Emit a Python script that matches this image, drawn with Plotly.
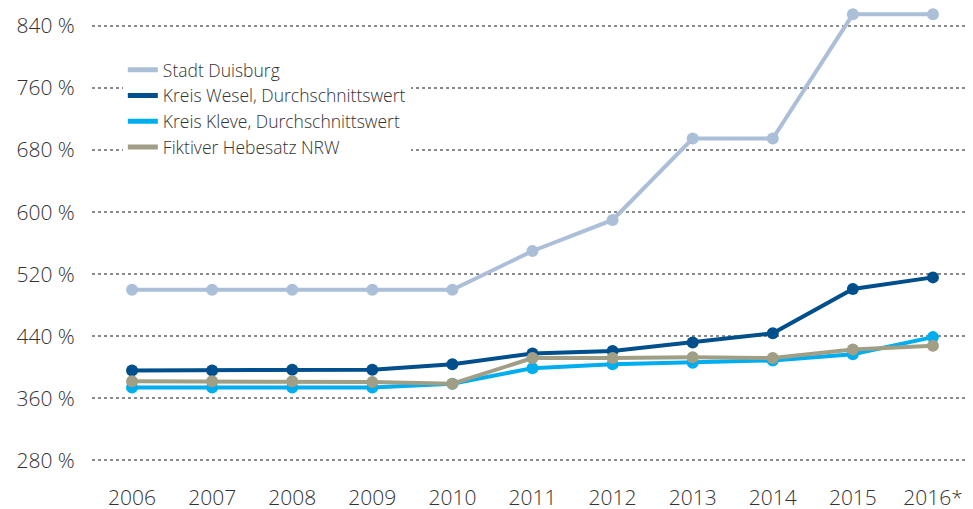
"""
Hebesätze Grundsteuer B: Duisburg vs. Kreis Wesel, Kreis Kleve und fiktiver Hebesatz NRW
"""

import plotly.graph_objects as go

# Jahre (2016 = Planwert)
years = ["2006", "2007", "2008", "2009", "2010", "2011",
         "2012", "2013", "2014", "2015", "2016*"]

# Hebesätze in Prozent
duisburg = [500, 500, 500, 500, 500, 550, 590, 695, 695, 855, 855]
wesel = [396, 396, 397, 397, 404, 418, 421, 432, 444, 501, 516]
kleve = [374, 374, 374, 374, 379, 399, 404, 406, 409, 417, 439]
nrw = [382, 382, 382, 381, 379, 412, 412, 413, 412, 423, 428]

series_names = ["Stadt Duisburg", "Kreis Wesel, Durchschnittswert",
                "Kreis Kleve, Durchschnittswert", "Fiktiver Hebesatz NRW"]
series_colors = ["#abbfd8", "#004f8d", "#00aeef", "#a19e86"]

y_ticks = [280, 360, 440, 520, 600, 680, 760, 840]
y_labels = [f"{v} %" for v in y_ticks]

FONT = "Open Sans"
TEXT_COLOR = "#333333"

fig = go.Figure()

for name, values, color in zip(series_names, [duisburg, wesel, kleve, nrw], series_colors):
    fig.add_trace(go.Scatter(
        x=years,
        y=values,
        mode="lines+markers",
        name=name,
        line={"color": color, "width": 4},
        marker={"color": color, "size": 12},
        showlegend=False,
    ))

# legend entries: just a short thick line, like the original
for name, color in zip(series_names, series_colors):
    fig.add_trace(go.Scatter(
        x=[None],
        y=[None],
        mode="lines",
        name=name,
        line={"color": color, "width": 5},
    ))

# the page body adds an 8px margin, so the figure is 8px smaller than the window
fig.update_layout(
    width=965,
    height=501,
    margin={"l": 84, "r": 0, "t": 0, "b": 33},
    paper_bgcolor="white",
    plot_bgcolor="white",
    font={"family": FONT, "color": TEXT_COLOR, "size": 20, "weight": 300},
    legend={
        "x": 0.035,
        "y": 0.906,
        "xanchor": "left",
        "yanchor": "top",
        "bgcolor": "white",
        "font": {"size": 17.5, "color": TEXT_COLOR, "weight": 300},
        "itemwidth": 30,
        "tracegroupgap": 0,
    },
    xaxis={
        "type": "category",
        "range": [-0.5, len(years) - 0.5],
        "automargin": False,
        "showgrid": False,
        "showline": False,
        "zeroline": False,
        "ticks": "outside",
        "ticklen": 3,
        "tickcolor": "rgba(0,0,0,0)",
        "tickfont": {"size": 21},
    },
    yaxis={
        "range": [260, 863.2],
        "automargin": False,
        "tickvals": y_ticks,
        "ticktext": y_labels,
        "showgrid": True,
        "gridcolor": "#8a8a8a",
        "gridwidth": 1.5,
        "griddash": "dot",
        "zeroline": False,
        "showline": False,
        "ticks": "outside",
        "ticklen": 12,
        "tickcolor": "rgba(0,0,0,0)",
        "tickfont": {"size": 21},
    },
)

fig.write_html("out.html")
